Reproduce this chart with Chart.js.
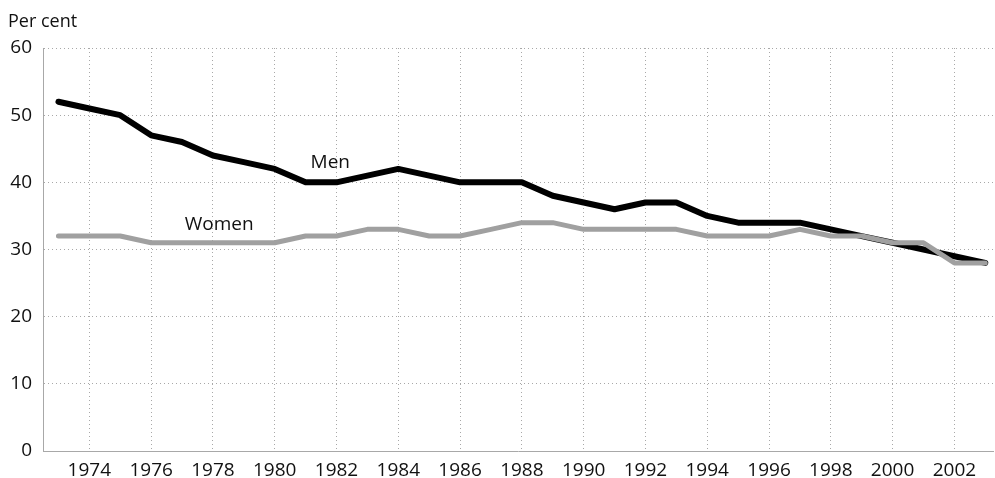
<!DOCTYPE html>
<html>
<head>
<meta charset="utf-8">
<script src="https://cdn.jsdelivr.net/npm/chart.js@4"></script>
<style>
html,body{margin:0;padding:0;background:#fff;}
#wrap{width:995px;height:478px;position:relative;}
</style>
</head>
<body>
<div id="wrap"><canvas id="c" width="995" height="478"></canvas></div>
<script>
const years = [1973,1974,1975,1976,1977,1978,1979,1980,1981,1982,1983,1984,1985,1986,1987,1988,1989,1990,1991,1992,1993,1994,1995,1996,1997,1998,1999,2000,2001,2002,2003];
const men   = [52,51,50,47,46,44,43,42,40,40,41,42,41,40,40,40,38,37,36,37,37,35,34,34,34,33,32,31,30,29,28];
const women = [32,32,32,31,31,31,31,31,32,32,33,33,32,32,33,34,34,33,33,33,33,32,32,32,33,32,32,31,31,28,28];
const xTicks = [1974,1976,1978,1980,1982,1984,1986,1988,1990,1992,1994,1996,1998,2000,2002];
const yTicks = [0,10,20,30,40,50,60];
const seriesLabels = [{text:'Men', x:1981.8, y:42.9},{text:'Women', x:1978.2, y:33.7}];
const yTitle = 'Per cent';

const FONT = "'Open Sans', 'DejaVu Sans', sans-serif";
const textPlugin = {
  id:'texts',
  afterDatasetsDraw(chart){
    const ctx = chart.ctx, xs = chart.scales.x, ys = chart.scales.y;
    ctx.save();
    ctx.fillStyle = '#111';
    ctx.font = '19px ' + FONT;
    ctx.textAlign = 'center';
    ctx.textBaseline = 'middle';
    seriesLabels.forEach(l => ctx.fillText(l.text, xs.getPixelForValue(l.x), ys.getPixelForValue(l.y)));
    ctx.textAlign = 'left';
    ctx.textBaseline = 'alphabetic';
    ctx.font = '18px ' + FONT;
    ctx.fillText(yTitle, 8, 27);
    ctx.restore();
  }
};

new Chart(document.getElementById('c'), {
  type:'line',
  data:{
    datasets:[
      {label:'Women', data: years.map((y,i)=>({x:y,y:women[i]})), borderColor:'#a0a0a0', borderWidth:5, pointRadius:0, tension:0, fill:false},
      {label:'Men', data: years.map((y,i)=>({x:y,y:men[i]})), borderColor:'#000', borderWidth:6, pointRadius:0, tension:0, fill:false}
    ]
  },
  options:{
    responsive:false, animation:false,
    layout:{padding:{top:48, right:2, left:0, bottom:0}},
    plugins:{legend:{display:false}, tooltip:{enabled:false}},
    scales:{
      x:{
        type:'linear', min:1972.5, max:2003.25,
        afterBuildTicks(s){ s.ticks = xTicks.map(v=>({value:v})); },
        afterFit(s){ s.height = 27; },
        ticks:{callback:v=>String(v), color:'#111', font:{family:FONT, size:19}, maxRotation:0, autoSkip:false, padding:8},
        grid:{color:'#a8a8a8', lineWidth:1, drawTicks:false, tickLength:0},
        border:{display:true, color:'#a8a8a8', dash:[1,3]}
      },
      y:{
        min:0, max:60,
        afterBuildTicks(s){ s.ticks = yTicks.map(v=>({value:v})); },
        afterFit(s){ s.width = 43; },
        ticks:{color:'#111', font:{family:FONT, size:19}, padding:11},
        grid:{color:'#a8a8a8', lineWidth:1, drawTicks:false},
        border:{display:true, color:'#a8a8a8', dash:[1,3]}
      }
    },
    elements:{line:{borderCapStyle:'round', borderJoinStyle:'round'}}
  },
  plugins:[textPlugin, {
    id:'dash',
    beforeDraw(chart){
      ['x','y'].forEach(k=>{ const g = chart.options.scales[k].grid; g.borderDash=[1,3]; });
    }
  }]
});
</script>
</body>
</html>
